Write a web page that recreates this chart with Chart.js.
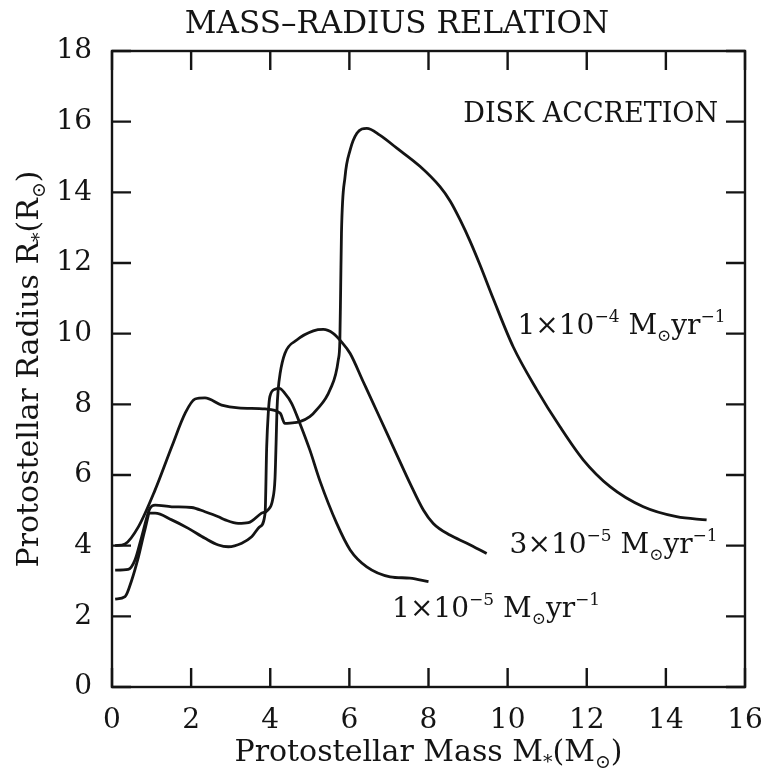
<!DOCTYPE html>
<html>
<head>
<meta charset="utf-8">
<script src="https://cdn.jsdelivr.net/npm/chart.js@4.4.1/dist/chart.umd.min.js"></script>
<style>
  html, body { margin: 0; padding: 0; background: #fff; }
  #wrap { width: 766px; height: 775px; }
</style>
</head>
<body>
<div id="wrap"><canvas id="chart" width="766" height="775"></canvas></div>
<script>
// Protostellar mass (Msun) vs radius (Rsun)
const massHigh = [0.08, 0.33, 0.67, 1.09, 1.51, 1.85, 2.1, 2.35, 2.77, 3.19, 3.87, 4.25, 4.37, 4.5, 4.75, 5.0, 5.17, 5.51, 5.72, 5.76, 5.78, 5.8, 5.89, 6.02, 6.19, 6.44, 6.77, 7.2, 7.79, 8.29, 8.55, 8.8, 9.05, 9.3, 9.64, 10.14, 10.74, 11.32, 11.91, 12.59, 13.43, 14.27, 15.03];
const radiusHigh = [4.0, 4.05, 4.54, 5.58, 6.8, 7.75, 8.15, 8.18, 7.98, 7.9, 7.87, 7.75, 7.46, 7.47, 7.51, 7.65, 7.84, 8.41, 9.26, 9.82, 11.3, 12.84, 14.44, 15.2, 15.67, 15.81, 15.62, 15.25, 14.73, 14.16, 13.75, 13.22, 12.62, 11.95, 10.98, 9.63, 8.41, 7.37, 6.43, 5.67, 5.1, 4.82, 4.73];

const massMid = [0.08, 0.41, 0.58, 0.75, 0.96, 1.09, 1.51, 2.01, 2.35, 2.69, 2.86, 3.19, 3.45, 3.78, 3.95, 4.06, 4.12, 4.15, 4.17, 4.2, 4.25, 4.37, 4.67, 5.09, 5.34, 5.59, 5.8, 6.02, 6.35, 6.77, 7.2, 7.53, 7.87, 8.12, 8.54, 8.97, 9.47];
const radiusMid = [3.31, 3.33, 3.59, 4.25, 5.06, 5.15, 5.1, 5.08, 4.96, 4.82, 4.73, 4.63, 4.65, 4.92, 5.02, 5.3, 5.9, 7.0, 7.84, 8.41, 8.88, 9.44, 9.82, 10.08, 10.12, 10.01, 9.77, 9.44, 8.64, 7.62, 6.57, 5.77, 5.01, 4.63, 4.3, 4.07, 3.78];

const massLow = [0.08, 0.33, 0.5, 0.67, 0.83, 0.96, 1.09, 1.51, 1.93, 2.35, 2.69, 2.94, 3.28, 3.53, 3.74, 3.87, 3.91, 3.95, 3.99, 4.12, 4.23, 4.37, 4.54, 4.75, 5.0, 5.26, 5.68, 6.02, 6.44, 7.03, 7.53, 8.0];
const radiusLow = [2.49, 2.56, 3.03, 3.69, 4.44, 4.92, 4.92, 4.73, 4.49, 4.21, 4.02, 3.97, 4.07, 4.25, 4.54, 4.92, 6.8, 7.75, 8.22, 8.43, 8.45, 8.31, 8.03, 7.46, 6.71, 5.82, 4.63, 3.88, 3.4, 3.12, 3.08, 2.98];

// accretion rate labels: mantissa and exponent
const rateMantissa = ["1", "3", "1"];
const rateExponent = ["4", "5", "5"];

const xTicks = [0, 2, 4, 6, 8, 10, 12, 14, 16];
const yTicks = [0, 2, 4, 6, 8, 10, 12, 14, 16, 18];

const FONT = "'DejaVu Serif', 'DejaVu Sans', serif";
const INK = "#141414";

function toPoints(m, r) {
  return m.map((x, i) => ({ x: x, y: r[i] }));
}

// draw a run of text pieces, some raised or lowered
function drawRich(ctx, x, y, parts, size, align) {
  const fontFor = (kind) => (kind ? Math.round(size * 0.62) : size) + "px " + FONT;
  let total = 0;
  parts.forEach(([t, kind]) => {
    ctx.font = fontFor(kind);
    total += ctx.measureText(t).width;
  });
  let cx = align === "right" ? x - total : align === "center" ? x - total / 2 : x;
  ctx.textAlign = "left";
  ctx.textBaseline = "alphabetic";
  parts.forEach(([t, kind]) => {
    ctx.font = fontFor(kind);
    let dy = 0;
    if (kind === "sup") dy = -size * 0.42;
    if (kind === "sub") dy = size * 0.24;
    ctx.fillText(t, cx, y + dy);
    cx += ctx.measureText(t).width;
  });
}

function rateParts(i) {
  return [
    [rateMantissa[i] + "×10", ""],
    ["−" + rateExponent[i], "sup"],
    [" M", ""],
    ["⊙", "sub"],
    ["yr", ""],
    ["−1", "sup"],
  ];
}

// where each rate label sits, in data units (left edge, baseline)
const rateLabelAt = [
  { x: 10.25, y: 9.99 },
  { x: 10.05, y: 3.79 },
  { x: 7.08, y: 1.98 },
];

const framePlugin = {
  id: "frame",
  afterDatasetsDraw(chart) {
    const { ctx, chartArea: a, scales } = chart;
    const tick = 19;
    ctx.save();
    ctx.strokeStyle = INK;
    ctx.lineWidth = 2.4;
    ctx.strokeRect(a.left, a.top, a.right - a.left, a.bottom - a.top);
    ctx.beginPath();
    xTicks.forEach((v) => {
      const px = scales.x.getPixelForValue(v);
      ctx.moveTo(px, a.bottom);
      ctx.lineTo(px, a.bottom - tick);
      ctx.moveTo(px, a.top);
      ctx.lineTo(px, a.top + tick);
    });
    yTicks.forEach((v) => {
      const py = scales.y.getPixelForValue(v);
      ctx.moveTo(a.left, py);
      ctx.lineTo(a.left + tick, py);
      ctx.moveTo(a.right, py);
      ctx.lineTo(a.right - tick, py);
    });
    ctx.stroke();
    ctx.restore();
  },
};

const textPlugin = {
  id: "texts",
  afterDraw(chart) {
    const { ctx, chartArea: a, scales } = chart;
    ctx.save();
    ctx.fillStyle = INK;

    // title
    ctx.font = "31px " + FONT;
    ctx.textAlign = "center";
    ctx.textBaseline = "alphabetic";
    ctx.fillText("MASS–RADIUS RELATION", 397, 33);

    // x axis title
    drawRich(ctx, (a.left + a.right) / 2, 761, [
      ["Protostellar Mass M", ""], ["*", "sub"], ["(M", ""], ["⊙", "sub"], [")", ""],
    ], 30, "center");

    // y axis title
    ctx.save();
    ctx.translate(38, (a.top + a.bottom) / 2);
    ctx.rotate(-Math.PI / 2);
    drawRich(ctx, 0, 0, [
      ["Protostellar Radius R", ""], ["*", "sub"], ["(R", ""], ["⊙", "sub"], [")", ""],
    ], 30, "center");
    ctx.restore();

    // panel label
    drawRich(ctx, scales.x.getPixelForValue(15.32), scales.y.getPixelForValue(16.0),
      [["DISK ACCRETION", ""]], 27, "right");

    // accretion-rate labels
    rateLabelAt.forEach((p, i) => {
      drawRich(ctx, scales.x.getPixelForValue(p.x), scales.y.getPixelForValue(p.y),
        rateParts(i), 28, "left");
    });
    ctx.restore();
  },
};

const lineStyle = {
  borderColor: INK,
  borderWidth: 2.8,
  pointRadius: 0,
  showLine: true,
  fill: false,
  cubicInterpolationMode: "monotone",
};

new Chart(document.getElementById("chart"), {
  type: "scatter",
  data: {
    datasets: [
      { label: "1e-4", data: toPoints(massHigh, radiusHigh), ...lineStyle },
      { label: "3e-5", data: toPoints(massMid, radiusMid), ...lineStyle },
      { label: "1e-5", data: toPoints(massLow, radiusLow), ...lineStyle },
    ],
  },
  options: {
    responsive: false,
    devicePixelRatio: 1,
    animation: false,
    layout: { padding: { left: 0, right: 21, top: 51, bottom: 0 } },
    plugins: {
      legend: { display: false },
      tooltip: { enabled: false },
    },
    scales: {
      x: {
        type: "linear",
        min: 0,
        max: 16,
        afterBuildTicks: (s) => { s.ticks = xTicks.map((v) => ({ value: v })); },
        afterFit: (s) => { s.height = 88; s.paddingLeft = 0; s.paddingRight = 0; },
        grid: { display: false, drawTicks: false },
        border: { display: false },
        ticks: { color: INK, font: { family: FONT, size: 28 }, padding: 17 },
      },
      y: {
        type: "linear",
        min: 0,
        max: 18,
        afterBuildTicks: (s) => { s.ticks = yTicks.map((v) => ({ value: v })); },
        afterFit: (s) => { s.width = 112; s.paddingTop = 0; s.paddingBottom = 0; },
        grid: { display: false, drawTicks: false },
        border: { display: false },
        ticks: { color: INK, font: { family: FONT, size: 28 }, padding: 20 },
      },
    },
  },
  plugins: [framePlugin, textPlugin],
});
</script>
</body>
</html>
